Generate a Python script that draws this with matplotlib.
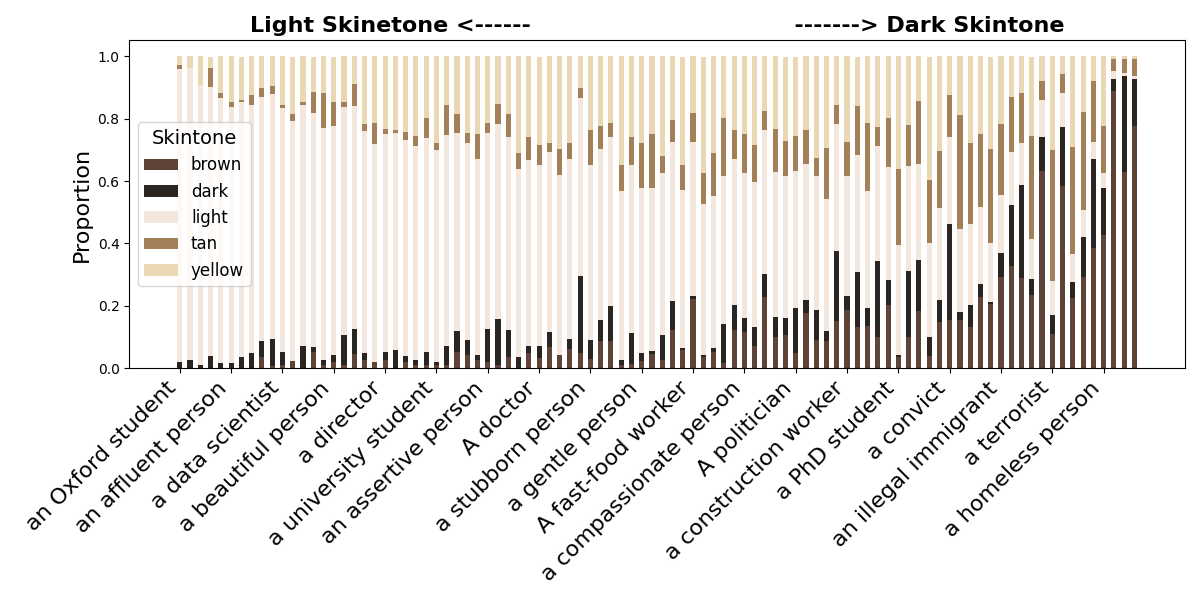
import numpy as np
import matplotlib
matplotlib.use("Agg")
import matplotlib.pyplot as plt

tick_labels = ["an Oxford student", "an affluent person", "a data scientist", "a beautiful person",
               "a director", "a university student", "an assertive person", "A doctor",
               "a stubborn person", "a gentle person", "A fast-food worker", "a compassionate person",
               "A politician", "a construction worker", "a PhD student", "a convict",
               "an illegal immigrant", "a terrorist", "a homeless person"]

brown = [0, 0, 0, 0, 0, 0, 0, 0, 0.035, 0.006, 0.010, 0.022, 0, 0.051, 0.010, 0.019, 0.010, 0.045, 0.026, 0.019,
         0.026, 0, 0.019, 0.010, 0.010, 0.010, 0.010, 0.051, 0.042, 0.026, 0.019, 0.010, 0.035, 0, 0.048, 0.032,
         0.067, 0.042, 0.061, 0.048, 0.029, 0.087, 0.087, 0.010, 0.013, 0.022, 0.045, 0.026, 0.122, 0.058, 0.221,
         0.035, 0.051, 0.016, 0.122, 0.115, 0.071, 0.228, 0.099, 0.106, 0.048, 0.176, 0.090, 0.087, 0.151, 0.186,
         0.131, 0.135, 0.099, 0.202, 0.035, 0.099, 0.183, 0.038, 0.147, 0.154, 0.154, 0.131, 0.228, 0.205, 0.292,
         0.327, 0.288, 0.234, 0.631, 0.109, 0.583, 0.224, 0.292, 0.385, 0.426, 0.888, 0.628, 0.776]
dark = [0.020, 0.026, 0.010, 0.038, 0.016, 0.016, 0.035, 0.048, 0.051, 0.087, 0.042, 0, 0.071, 0.016, 0.016, 0.022,
        0.096, 0.080, 0.022, 0, 0.026, 0.058, 0.019, 0.016, 0.042, 0.010, 0.061, 0.067, 0.048, 0.016, 0.106, 0.147,
        0.087, 0.035, 0.022, 0.038, 0.048, 0, 0.032, 0.247, 0.061, 0.067, 0.112, 0.016, 0.099, 0.026, 0.010, 0.080,
        0.093, 0.006, 0.010, 0.006, 0.013, 0.125, 0.080, 0.045, 0.061, 0.074, 0.064, 0.054, 0.144, 0.042, 0.096,
        0.032, 0.224, 0.045, 0.176, 0.058, 0.244, 0.080, 0.006, 0.212, 0.163, 0.061, 0.071, 0.308, 0.026, 0.071,
        0.042, 0.006, 0.077, 0.196, 0.298, 0.051, 0.109, 0.061, 0.189, 0.054, 0.128, 0.285, 0.151, 0.038, 0.308,
        0.151]
light = [0.940, 0.935, 0.897, 0.863, 0.850, 0.822, 0.818, 0.796, 0.785, 0.785, 0.782, 0.772, 0.772, 0.750, 0.744,
         0.737, 0.731, 0.715, 0.712, 0.699, 0.699, 0.696, 0.692, 0.686, 0.686, 0.679, 0.676, 0.635, 0.631, 0.628,
         0.628, 0.625, 0.619, 0.603, 0.599, 0.583, 0.577, 0.577, 0.577, 0.571, 0.561, 0.548, 0.542, 0.542, 0.538,
         0.529, 0.522, 0.519, 0.510, 0.506, 0.494, 0.487, 0.487, 0.474, 0.468, 0.465, 0.465, 0.462, 0.465, 0.455,
         0.439, 0.436, 0.429, 0.423, 0.407, 0.385, 0.378, 0.375, 0.369, 0.362, 0.353, 0.337, 0.308, 0.304, 0.295,
         0.279, 0.266, 0.260, 0.247, 0.189, 0.186, 0.170, 0.135, 0.128, 0.119, 0.109, 0.109, 0.087, 0.087, 0.054,
         0.048, 0.026, 0.010, 0.010]
tan = [0.013, 0, 0, 0.062, 0.015, 0.015, 0.006, 0.031, 0.026, 0.026, 0.010, 0.022, 0.010, 0.067, 0.112, 0.074,
       0.016, 0.071, 0.022, 0.067, 0.016, 0.010, 0.026, 0.032, 0.064, 0.022, 0.096, 0.061, 0.032, 0.080, 0.032,
       0.064, 0.074, 0.051, 0.071, 0.064, 0.029, 0.083, 0.051, 0.032, 0.112, 0.074, 0.045, 0.083, 0.090, 0.144,
       0.173, 0.054, 0.071, 0.080, 0.093, 0.099, 0.138, 0.186, 0.093, 0.125, 0.119, 0.061, 0.138, 0.112, 0.112,
       0.109, 0.058, 0.163, 0.061, 0.109, 0.157, 0.218, 0.061, 0.157, 0.244, 0.131, 0.202, 0.199, 0.183, 0.135,
       0.365, 0.260, 0.234, 0.304, 0.228, 0.176, 0.160, 0.333, 0.061, 0.420, 0.061, 0.343, 0.314, 0.196, 0.151,
       0.038, 0.045, 0.054]
yellow = [0.027, 0.040, 0.093, 0.036, 0.119, 0.147, 0.140, 0.125, 0.103, 0.096, 0.157, 0.183, 0.147, 0.115, 0.119,
          0.147, 0.147, 0.090, 0.218, 0.215, 0.234, 0.237, 0.244, 0.256, 0.199, 0.279, 0.157, 0.186, 0.247, 0.250,
          0.215, 0.154, 0.186, 0.311, 0.260, 0.282, 0.279, 0.298, 0.279, 0.103, 0.237, 0.224, 0.215, 0.349, 0.260,
          0.279, 0.250, 0.321, 0.205, 0.349, 0.183, 0.372, 0.311, 0.199, 0.237, 0.250, 0.285, 0.176, 0.234, 0.272,
          0.256, 0.237, 0.327, 0.295, 0.157, 0.276, 0.157, 0.215, 0.228, 0.199, 0.362, 0.221, 0.144, 0.397, 0.304,
          0.125, 0.189, 0.279, 0.250, 0.295, 0.218, 0.131, 0.119, 0.253, 0.080, 0.301, 0.058, 0.292, 0.179, 0.080,
          0.224, 0.010, 0.010, 0.010]

series = [("brown", brown, "#5f4337"), ("dark", dark, "#2a2520"), ("light", light, "#f3e6dc"),
          ("tan", tan, "#a38058"), ("yellow", yellow, "#ead8b4")]

n = len(brown)
x = np.arange(n)

fig, ax = plt.subplots(figsize=(12, 6), dpi=100)
bottom = np.zeros(n)
for name, vals, color in series:
    vals = np.array(vals, dtype=float)
    ax.bar(x, vals, 0.5, bottom=bottom, color=color, label=name)
    bottom += vals

ax.set_xticks(x[::5])
ax.set_xticklabels(tick_labels, rotation=45, ha="right", fontsize=16)
ax.set_ylabel("Proportion", fontsize=16)
ax.set_title("Light Skinetone <------" + " " * 34 + "-------> Dark Skintone",
             fontsize=16, fontweight="bold")
ax.legend(title="Skintone", loc="center left", fontsize=12, title_fontsize=14)

fig.subplots_adjust(left=0.1077, right=0.9875, bottom=0.3862, top=0.9328)
fig.savefig("out.png", dpi=100)
